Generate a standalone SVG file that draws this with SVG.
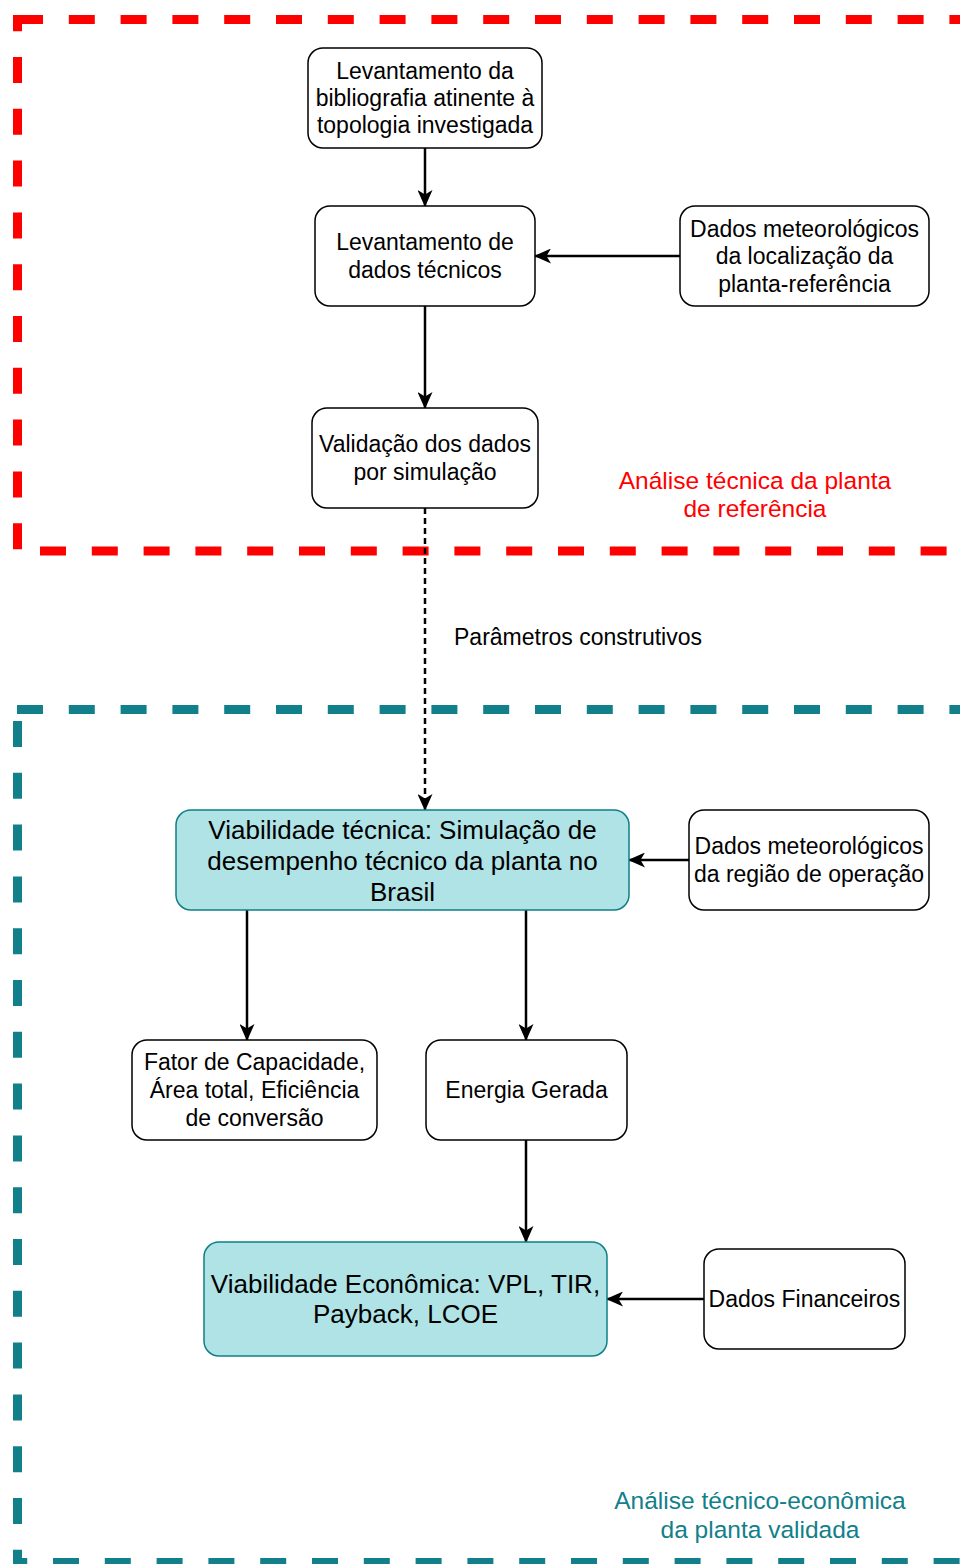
<svg xmlns="http://www.w3.org/2000/svg" width="960" height="1564" viewBox="0 0 960 1564">
<style>
text{font-family:"Liberation Sans",Arial,sans-serif;font-size:23px;fill:#000;text-anchor:middle}
.big{font-size:26px}
.lbl{font-size:24.5px}
.box{fill:#fff;stroke:#000;stroke-width:1.5}
.tbox{fill:#b0e3e6;stroke:#0e8088;stroke-width:1.5}
.edge{stroke:#000;stroke-width:2.5;fill:none;marker-end:url(#arr)}
.red{stroke:#ff0000;stroke-width:9;stroke-dasharray:26 25.8;fill:none}
.teal{stroke:#12808a;stroke-width:9;stroke-dasharray:26 25.8;fill:none}
</style>
<defs>
<marker id="arr" markerUnits="userSpaceOnUse" markerWidth="17" markerHeight="15" viewBox="0 0 17 15" refX="16" refY="7.5" orient="auto">
<path d="M0,0 L17,7.5 L0,15 L4.5,7.5 Z" fill="#000"/>
</marker>
</defs>
<rect width="960" height="1564" fill="#fff"/>
<g id="container-red">
<line class="red" x1="17" y1="19.5" x2="960" y2="19.5"/>
<line class="red" x1="17.5" y1="15" x2="17.5" y2="551" stroke-dashoffset="9.8"/>
<line class="red" x1="40" y1="551" x2="960" y2="551"/>
<text class="lbl" x="755" y="488.5" style="fill:#ff0000">Análise técnica da planta</text>
<text class="lbl" x="755" y="517" style="fill:#ff0000">de referência</text>
</g>
<g id="container-teal">
<line class="teal" x1="17" y1="709.5" x2="960" y2="709.5"/>
<line class="teal" x1="17.5" y1="721" x2="17.5" y2="1564"/>
<line class="teal" x1="13" y1="1562.5" x2="960" y2="1562.5" stroke-dashoffset="11.8"/>
<text class="lbl" x="760" y="1508.5" style="fill:#12808a">Análise técnico-econômica</text>
<text class="lbl" x="760" y="1537.5" style="fill:#12808a">da planta validada</text>
</g>
<g id="connectors">
<line class="edge" x1="425" y1="148" x2="425" y2="206"/>
<line class="edge" x1="680" y1="256" x2="535" y2="256"/>
<line class="edge" x1="425" y1="306" x2="425" y2="408"/>
<line class="edge" x1="425" y1="508" x2="425" y2="810" stroke-dasharray="6 4" stroke-width="2"/>
<text x="454" y="645" style="text-anchor:start">Parâmetros construtivos</text>
<line class="edge" x1="689" y1="860" x2="629" y2="860"/>
<line class="edge" x1="247" y1="910" x2="247" y2="1040"/>
<line class="edge" x1="526" y1="910" x2="526" y2="1040"/>
<line class="edge" x1="526" y1="1140" x2="526" y2="1242"/>
<line class="edge" x1="704" y1="1299" x2="607" y2="1299"/>
</g>
<g id="n1">
<rect class="box" x="308" y="48" width="234" height="100" rx="15"/>
<text x="425" y="79">Levantamento da</text>
<text x="425" y="106">bibliografia atinente à</text>
<text x="425" y="133">topologia investigada</text>
</g>
<g id="n2">
<rect class="box" x="315" y="206" width="220" height="100" rx="15"/>
<text x="425" y="250">Levantamento de</text>
<text x="425" y="278">dados técnicos</text>
</g>
<g id="n3">
<rect class="box" x="680" y="206" width="249" height="100" rx="15"/>
<text x="804.5" y="236.5">Dados meteorológicos</text>
<text x="804.5" y="264">da localização da</text>
<text x="804.5" y="291.5">planta-referência</text>
</g>
<g id="n4">
<rect class="box" x="312" y="408" width="226" height="100" rx="15"/>
<text x="425" y="452">Validação dos dados</text>
<text x="425" y="480">por simulação</text>
</g>
<g id="n5">
<rect class="tbox" x="176" y="810" width="453" height="100" rx="15"/>
<text class="big" x="402.5" y="838.5">Viabilidade técnica: Simulação de</text>
<text class="big" x="402.5" y="869.5">desempenho técnico da planta no</text>
<text class="big" x="402.5" y="900.5">Brasil</text>
</g>
<g id="n6">
<rect class="box" x="689" y="810" width="240" height="100" rx="15"/>
<text x="809" y="854">Dados meteorológicos</text>
<text x="809" y="882">da região de operação</text>
</g>
<g id="n7">
<rect class="box" x="132" y="1040" width="245" height="100" rx="15"/>
<text x="254.5" y="1070">Fator de Capacidade,</text>
<text x="254.5" y="1098">Área total, Eficiência</text>
<text x="254.5" y="1125.5">de conversão</text>
</g>
<g id="n8">
<rect class="box" x="426" y="1040" width="201" height="100" rx="15"/>
<text x="526.5" y="1098">Energia Gerada</text>
</g>
<g id="n9">
<rect class="tbox" x="204" y="1242" width="403" height="114" rx="15"/>
<text class="big" x="405.5" y="1292.5">Viabilidade Econômica: VPL, TIR,</text>
<text class="big" x="405.5" y="1323">Payback, LCOE</text>
</g>
<g id="n10">
<rect class="box" x="704" y="1249" width="201" height="100" rx="15"/>
<text x="804.5" y="1307">Dados Financeiros</text>
</g>
</svg>
